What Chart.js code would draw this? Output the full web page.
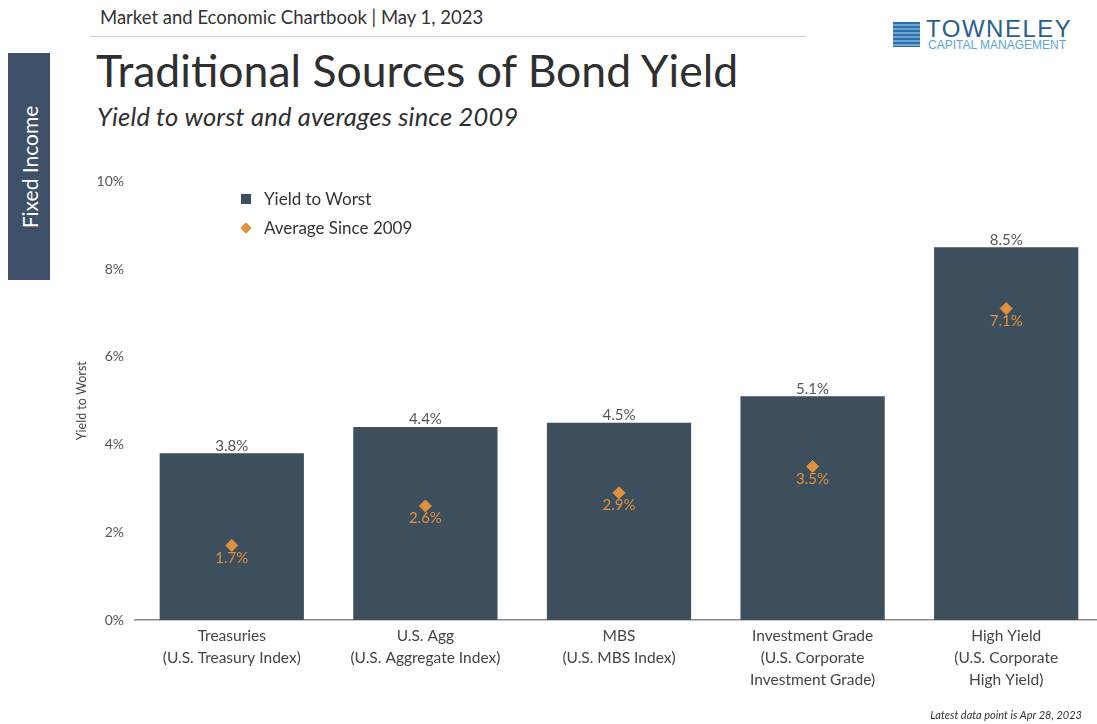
<!DOCTYPE html>
<html>
<head>
<meta charset="utf-8">
<script src="https://cdn.jsdelivr.net/npm/chart.js@4"></script>
<style>
  html, body { margin: 0; padding: 0; background: #fff; overflow: hidden; }
  body { width: 1097px; height: 724px; position: relative; font-family: Lato, "Open Sans", sans-serif; color: #333; }
  .top { position: absolute; left: 100px; top: 6px; font-size: 18.5px; color: #333; }
  .rule { position: absolute; left: 90px; top: 36px; width: 716px; height: 1px; background: #c9ced3; }
  h1 { position: absolute; left: 96px; top: 43px; margin: 0; font-weight: 400; font-size: 44.5px; color: #2f2f2f; }
  .sub { position: absolute; left: 97px; top: 101px; font-size: 25.5px; letter-spacing: 0.2px; font-style: italic; color: #2f2f2f; }
  .side { position: absolute; left: 8px; top: 53px; width: 42px; height: 227px; background: #3f5069; }
  .side span { position: absolute; left: 50%; top: 50%; transform: translate(-50%, -50%) rotate(-90deg); color: #fff; font-size: 21px; white-space: nowrap; }
  .logo { position: absolute; left: 893px; top: 20px; }
  .logo .icon { position: absolute; left: 0; top: 2px; width: 27px; height: 25px; background: repeating-linear-gradient(#2f6fa8 0 2px, #6aa6d6 2px 4px); }
  .logo .name { position: absolute; left: 33px; top: -5px; font-size: 24px; color: #2a5e8c; letter-spacing: 1.5px; font-family: "Liberation Sans", sans-serif; }
  .logo .cap { position: absolute; left: 35px; top: 18px; font-size: 12px; color: #5aa6d8; white-space: nowrap; font-family: "Liberation Sans", sans-serif; }
  #wrap { position: absolute; left: 0; top: 170px; width: 1110px; height: 540px; }
  #legend { position: absolute; left: 241px; top: 184px; font-size: 17px; color: #333; }
  #legend div { height: 29px; display: flex; align-items: center; }
  #legend i { display: inline-block; margin-right: 13px; }
  .foot { position: absolute; right: 15px; top: 708px; font-size: 11px; font-style: italic; color: #333; }
</style>
</head>
<body>
<div class="top">Market and Economic Chartbook | May 1, 2023</div>
<div class="rule"></div>
<h1>Traditional Sources of Bond Yield</h1>
<div class="sub">Yield to worst and averages since 2009</div>
<div class="side"><span>Fixed Income</span></div>
<div class="logo"><div class="icon"></div><div class="name">TOWNELEY</div><div class="cap">CAPITAL MANAGEMENT</div></div>
<div id="wrap"><canvas id="c"></canvas></div>
<div id="legend"></div>
<div class="foot">Latest data point is Apr 28, 2023</div>
<script>
const categories = [
  ['Treasuries', '(U.S. Treasury Index)'],
  ['U.S. Agg', '(U.S. Aggregate Index)'],
  ['MBS', '(U.S. MBS Index)'],
  ['Investment Grade', '(U.S. Corporate', 'Investment Grade)'],
  ['High Yield', '(U.S. Corporate', 'High Yield)']
];
const yieldToWorst = [3.8, 4.4, 4.5, 5.1, 8.5];
const avgSince2009 = [1.7, 2.6, 2.9, 3.5, 7.1];
const yTicks = [0, 2, 4, 6, 8, 10];

const barColor = '#3d4e5d';
const dotColor = '#e0913d';

const valueLabels = {
  id: 'valueLabels',
  afterDatasetsDraw(chart) {
    const ctx = chart.ctx;
    ctx.save();
    ctx.textAlign = 'center';
    ctx.font = '15px Lato, "Open Sans", sans-serif';
    chart.getDatasetMeta(0).data.forEach((el, i) => {
      ctx.fillStyle = '#555';
      ctx.textBaseline = 'bottom';
      ctx.fillText(yieldToWorst[i].toFixed(1) + '%', el.x, el.y);
    });
    chart.getDatasetMeta(1).data.forEach((el, i) => {
      ctx.fillStyle = dotColor;
      ctx.textBaseline = 'top';
      ctx.fillText(avgSince2009[i].toFixed(1) + '%', el.x, el.y + 5);
    });
    ctx.restore();
  }
};

const chart = new Chart(document.getElementById('c'), {
  type: 'bar',
  data: {
    labels: categories,
    datasets: [{
      type: 'bar',
      label: 'Yield to Worst',
      data: yieldToWorst,
      backgroundColor: barColor,
      barPercentage: 0.745,
      categoryPercentage: 1,
      order: 2
    }, {
      type: 'line',
      label: 'Average Since 2009',
      data: avgSince2009,
      showLine: false,
      pointStyle: 'rectRot',
      pointRadius: 6,
      pointBackgroundColor: dotColor,
      pointBorderColor: dotColor,
      order: 1
    }]
  },
  options: {
    responsive: true,
    maintainAspectRatio: false,
    animation: false,
    layout: { padding: { left: 70, top: 10, right: 0, bottom: 0 } },
    plugins: { legend: { display: false }, tooltip: { enabled: false } },
    scales: {
      x: {
        grid: { display: false },
        border: { display: true, color: '#8a8a8a', width: 1.5 },
        ticks: { color: '#444', font: { size: 15.5, family: 'Lato', lineHeight: 1.42 }, padding: -3, maxRotation: 0 },
        afterFit(s) { s.height = 90; }
      },
      y: {
        min: 0, max: 10,
        afterBuildTicks(s) { s.ticks = yTicks.map(v => ({ value: v })); },
        grid: { display: false },
        border: { display: false },
        ticks: { color: '#555', font: { size: 14, family: 'Lato' }, padding: 3, callback: v => v + '%' },
        title: { display: true, text: 'Yield to Worst', color: '#444', font: { size: 12.5, family: 'Lato' } },
        afterFit(s) { s.width = 65; }
      }
    }
  },
  plugins: [valueLabels]
});

// legend built from the dataset labels
const lg = document.getElementById('legend');
chart.data.datasets.forEach((ds, i) => {
  const row = document.createElement('div');
  const mk = document.createElement('i');
  if (i === 0) {
    mk.style.cssText = 'width:10px;height:10px;background:' + barColor + ';';
  } else {
    mk.style.cssText = 'width:8px;height:8px;margin-left:1px;margin-right:14px;background:' + dotColor + ';transform:rotate(45deg);';
  }
  row.appendChild(mk);
  row.appendChild(document.createTextNode(ds.label));
  lg.appendChild(row);
});
</script>
</body>
</html>
